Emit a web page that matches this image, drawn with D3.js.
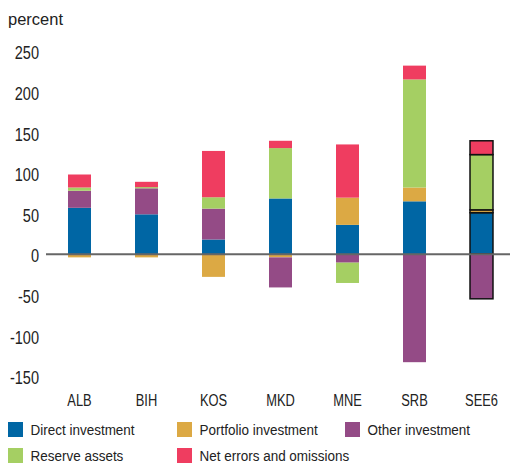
<!DOCTYPE html>
<html>
<head>
<meta charset="utf-8">
<script src="https://cdn.jsdelivr.net/npm/d3@7"></script>
<style>
  body { margin: 0; background: #fff; }
  svg text { font-family: "Liberation Sans", Arial, sans-serif; fill: #222; }
</style>
</head>
<body>
<div class="chart"></div>
<script>
// chart data
var countries = ["ALB", "BIH", "KOS", "MKD", "MNE", "SRB", "SEE6"];
var seriesNames = ["Direct investment", "Portfolio investment", "Other investment", "Reserve assets", "Net errors and omissions"];
var seriesKeys = ["direct", "portfolio", "other", "reserve", "errors"];
var direct = [57, 49, 18, 68.5, 36, 65, 51];
var portfolio = [-4, -4, -28, -4, 33.5, 17, 3.5];
var other = [21, 32, 38, -37, -10.5, -133, -55];
var reserve = [4, 1.5, 14, 62, -25, 133, 68];
var errors = [16, 6.5, 57, 9, 65.5, 17, 17];
var yTicks = [-150, -100, -50, 0, 50, 100, 150, 200, 250];
var colors = ["#0066a4", "#dca944", "#944b86", "#a5cf63", "#ef3d60"];

var svgWidth = 510;
var svgHeight = 467;

var svg = d3.select(".chart")
  .append("svg")
  .attr("width", svgWidth)
  .attr("height", svgHeight);

var rows = countries.map((c, i) => ({
  country: c,
  direct: direct[i],
  portfolio: portfolio[i],
  other: other[i],
  reserve: reserve[i],
  errors: errors[i]
}));

var stacked = d3.stack()
  .keys(seriesKeys)
  .offset(d3.stackOffsetDiverging)(rows);

var x = d3.scaleBand()
  .domain(countries)
  .range([46, 515])
  .paddingInner(0.657)
  .paddingOuter(0.3285);

var y = d3.scaleLinear()
  .domain([-150, 250])
  .range([376, 51]);

// y tick labels (no axis line), squeezed to look like a narrow face
var yAxis = svg.append("g")
  .attr("transform", "translate(39,0)")
  .call(d3.axisLeft(y).tickValues(yTicks).tickFormat(d => String(d)).tickSize(0).tickPadding(0));
yAxis.select(".domain").remove();
yAxis.selectAll("text")
  .attr("font-size", 17.5)
  .attr("x", 0)
  .attr("dy", "0.36em")
  .attr("y", 1.5)
  .attr("transform", "scale(0.83,1)")
  .style("font-family", null);

svg.append("text")
  .attr("x", 8)
  .attr("y", 24.5)
  .attr("font-size", 16.5)
  .text("percent");

// bars
var layers = svg.selectAll("g.layer")
  .data(stacked)
  .enter()
  .append("g")
  .attr("class", "layer")
  .attr("fill", (d, i) => colors[i]);

layers.selectAll("rect")
  .data(d => d)
  .enter()
  .append("rect")
  .attr("x", d => x(d.data.country))
  .attr("width", x.bandwidth())
  .attr("y", d => y(Math.max(d[0], d[1])))
  .attr("height", d => Math.abs(y(d[0]) - y(d[1])))
  .attr("stroke", d => d.data.country === "SEE6" ? "#111" : "none")
  .attr("stroke-width", 1.5);

// zero line
svg.append("line")
  .attr("x1", 46)
  .attr("x2", 510)
  .attr("y1", y(0))
  .attr("y2", y(0))
  .attr("stroke", "#666")
  .attr("stroke-width", 2);

// x labels
var xAxis = svg.append("g")
  .attr("transform", "translate(0,406)")
  .call(d3.axisBottom(x).tickSize(0).tickPadding(0));
xAxis.select(".domain").remove();
xAxis.selectAll("text")
  .attr("font-size", 16.3)
  .attr("dy", 0)
  .attr("y", 0)
  .attr("transform", "scale(0.79,1)")
  .style("font-family", null);

// legend
var legendPos = [[8, 422], [177, 422], [345, 422], [8, 448], [177, 448]];
var legend = svg.selectAll("g.legend")
  .data(seriesNames)
  .enter()
  .append("g")
  .attr("class", "legend")
  .attr("transform", (d, i) => `translate(${legendPos[i][0]},${legendPos[i][1]})`);

legend.append("rect")
  .attr("width", 15)
  .attr("height", 15)
  .attr("fill", (d, i) => colors[i]);

legend.append("text")
  .attr("transform", "translate(22.5,12.5) scale(0.87,1)")
  .attr("font-size", 15.5)
  .text(d => d);
</script>
</body>
</html>
